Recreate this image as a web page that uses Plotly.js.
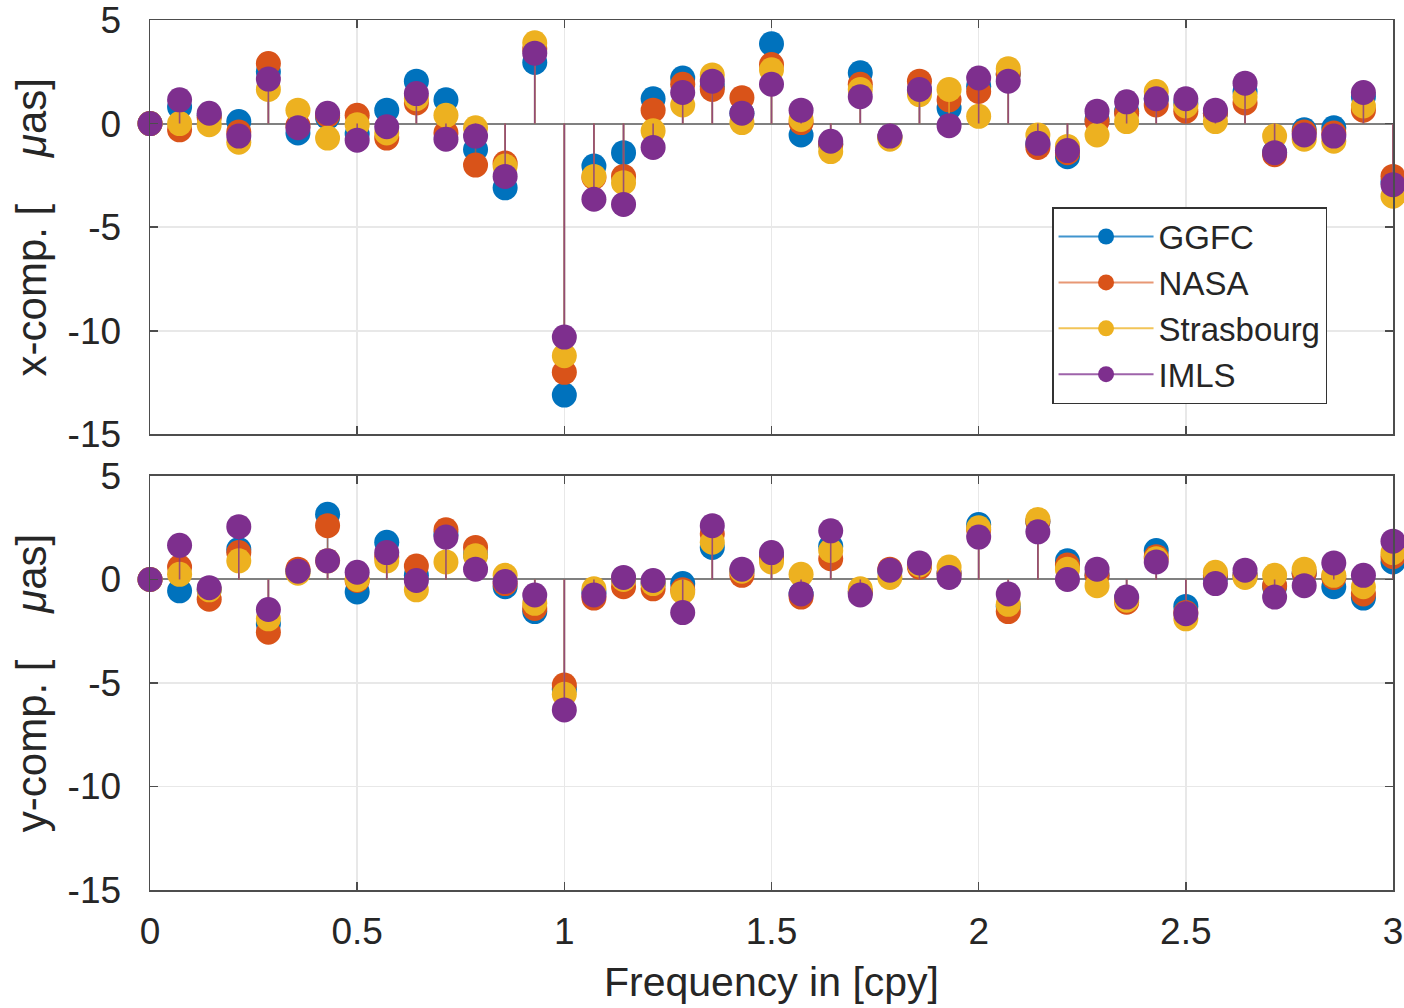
<!DOCTYPE html>
<html>
<head>
<meta charset="utf-8">
<script src="https://cdn.plot.ly/plotly-3.0.1.min.js"></script>
<style>html,body{margin:0;padding:0;background:#fff;}#chart{width:1404px;height:1008px;}</style>
</head>
<body>
<div id="chart"></div>
<script>
// Frequency in cpy
const frequency = [0, 0.0714, 0.1429, 0.2143, 0.2857, 0.3571, 0.4286, 0.5, 0.5714, 0.6429, 0.7143, 0.7857, 0.8571, 0.9286, 1.0, 1.0714, 1.1429, 1.2143, 1.2857, 1.3571, 1.4286, 1.5, 1.5714, 1.6429, 1.7143, 1.7857, 1.8571, 1.9286, 2.0, 2.0714, 2.1429, 2.2143, 2.2857, 2.3571, 2.4286, 2.5, 2.5714, 2.6429, 2.7143, 2.7857, 2.8571, 2.9286, 3.0];

const seriesNames = ["GGFC", "NASA", "Strasbourg", "IMLS"];

// x-component (µas)
const xGGFC = [0, 0.8, 0.4, 0.1, 2.5, -0.45, 0.3, -0.5, 0.65, 2.05, 1.15, -1.25, -3.1, 2.95, -13.1, -2.05, -1.4, 1.2, 2.2, 1.8, 0.5, 3.85, -0.55, -1.0, 2.45, -0.65, 1.6, 0.75, 1.8, 2.4, -1.0, -1.6, 0.2, 0.6, 1.2, 1.0, 0.5, 1.55, -1.4, -0.3, -0.2, 1.3, -2.8];
const xNASA = [0, -0.3, 0.3, -0.4, 2.9, -0.1, 0.4, 0.4, -0.7, 1.0, -0.45, -2.0, -1.9, 3.6, -12.0, -2.6, -2.55, 0.65, 1.9, 1.65, 1.25, 2.85, 0.05, -1.0, 1.9, -0.65, 2.05, 1.15, 1.55, 2.4, -1.15, -1.4, 0.1, 0.5, 0.9, 0.6, 0.5, 1.0, -1.5, -0.4, -0.45, 0.65, -2.55];
const xStrasbourg = [0, 0.0, -0.05, -0.9, 1.65, 0.65, -0.7, -0.05, -0.45, 1.2, 0.4, -0.2, -2.05, 3.9, -11.2, -2.55, -2.85, -0.35, 0.9, 2.35, 0.05, 2.6, 0.2, -1.35, 1.65, -0.75, 1.4, 1.65, 0.35, 2.65, -0.55, -1.1, -0.55, 0.1, 1.55, 0.85, 0.1, 1.3, -0.6, -0.75, -0.85, 0.85, -3.5];
const xIMLS = [0, 1.15, 0.5, -0.6, 2.15, -0.2, 0.5, -0.8, -0.15, 1.45, -0.75, -0.6, -2.55, 3.4, -10.3, -3.65, -3.9, -1.15, 1.5, 2.05, 0.5, 1.9, 0.65, -0.85, 1.3, -0.6, 1.65, -0.1, 2.2, 2.05, -0.95, -1.3, 0.6, 1.05, 1.2, 1.2, 0.65, 1.95, -1.4, -0.55, -0.6, 1.5, -2.95];

// y-component (µas)
const yGGFC = [0, -0.55, -0.5, 1.45, -2.15, 0.4, 3.15, -0.6, 1.8, 0.2, 2.2, 1.2, -0.35, -1.55, -5.3, -0.6, 0.0, -0.2, -0.2, 1.55, 0.4, 1.1, -0.7, 1.6, -0.6, 0.4, 0.7, 0.3, 2.65, -1.3, 2.8, 0.9, 0.2, -0.9, 1.4, -1.3, 0.1, 0.2, -0.35, 0.3, -0.35, -0.9, 0.85];
const yNASA = [0, 0.6, -0.95, 1.3, -2.55, 0.5, 2.6, -0.05, 1.1, 0.65, 2.4, 1.55, -0.2, -1.4, -5.1, -0.9, -0.35, -0.45, -0.5, 2.2, 0.2, 1.0, -0.85, 1.0, -0.6, 0.5, 0.6, 0.3, 2.4, -1.55, 2.8, 0.7, 0.2, -1.1, 1.1, -1.6, 0.2, 0.2, -0.3, 0.3, 0.1, -0.7, 1.1];
const yStrasbourg = [0, 0.25, -0.5, 0.9, -1.9, 0.3, 0.9, 0.0, 0.9, -0.5, 0.85, 1.15, 0.2, -1.15, -5.55, -0.45, 0.0, -0.2, -0.6, 1.8, 0.4, 0.85, 0.25, 1.4, -0.45, 0.1, 0.7, 0.6, 2.5, -1.2, 2.9, 0.5, -0.3, -1.0, 1.0, -1.9, 0.35, 0.1, 0.2, 0.5, 0.2, -0.35, 1.3];
const yIMLS = [0, 1.65, -0.4, 2.55, -1.45, 0.4, 0.9, 0.35, 1.3, -0.05, 2.05, 0.5, -0.1, -0.75, -6.3, -0.75, 0.1, -0.05, -1.6, 2.6, 0.5, 1.3, -0.7, 2.35, -0.75, 0.45, 0.8, 0.1, 2.05, -0.7, 2.3, 0.0, 0.5, -0.85, 0.85, -1.65, -0.2, 0.45, -0.85, -0.3, 0.8, 0.2, 1.85];

const xTickVals = [0, 0.5, 1, 1.5, 2, 2.5, 3];
const xTickText = ["0", "0.5", "1", "1.5", "2", "2.5", "3"];
const yTickVals = [-15, -10, -5, 0, 5];
const yTickText = ["-15", "-10", "-5", "0", "5"];

const colors = ["#0072BD", "#D95319", "#EDB120", "#7E2F8E"];
const stemColors = ["rgba(0,114,189,0.75)", "rgba(217,83,25,0.6)", "rgba(237,177,32,0.75)", "rgba(126,47,142,0.75)"];

const xSeries = [xGGFC, xNASA, xStrasbourg, xIMLS];
const ySeries = [yGGFC, yNASA, yStrasbourg, yIMLS];

function stemTrace(vals, i, xa, ya) {
  return {
    type: "scatter", mode: "markers",
    x: frequency, y: vals, xaxis: xa, yaxis: ya,
    name: seriesNames[i], showlegend: false, legendgroup: seriesNames[i],
    cliponaxis: false,
    marker: {color: colors[i], size: 25, line: {width: 0}},
    error_y: {
      type: "data", symmetric: false,
      array: vals.map(v => v < 0 ? -v : 0),
      arrayminus: vals.map(v => v > 0 ? v : 0),
      color: stemColors[i], thickness: 1.6, width: 0
    },
    hoverinfo: "x+y+name"
  };
}

const traces = [];
for (let i = 0; i < 4; i++) traces.push(stemTrace(xSeries[i], i, "x", "y"));
for (let i = 0; i < 4; i++) traces.push(stemTrace(ySeries[i], i, "x2", "y2"));
for (let i = 0; i < 4; i++) {
  traces.push({
    type: "scatter", mode: "lines+markers", x: [null], y: [null], xaxis: "x", yaxis: "y",
    name: seriesNames[i], legendgroup: seriesNames[i], showlegend: true,
    line: {color: stemColors[i], width: 2},
    marker: {color: colors[i], size: 25}
  });
}

const fontFam = "Liberation Sans, Arial, Helvetica, sans-serif";
const axisCommon = {
  showline: true, mirror: "ticks", linecolor: "#4d4d4d", linewidth: 1.5,
  ticks: "inside", ticklen: 8, tickwidth: 1.5, tickcolor: "#4d4d4d",
  showgrid: true, gridcolor: "#e8e8e8", gridwidth: 1.5,
  ticklabeloverflow: "allow",
  tickfont: {family: fontFam, size: 37, color: "#262626"}
};

const gap = "\u00a0\u00a0\u00a0\u00a0";

const layout = {
  width: 1404, height: 1008,
  paper_bgcolor: "#ffffff", plot_bgcolor: "#ffffff",
  margin: {l: 150, r: 11, t: 20, b: 118},
  showlegend: true,
  font: {family: fontFam, color: "#262626"},
  xaxis: Object.assign({}, axisCommon, {
    domain: [0, 1], anchor: "y", range: [0, 3], tickmode: "array",
    tickvals: xTickVals, ticktext: xTickText, showticklabels: false, zeroline: false
  }),
  yaxis: Object.assign({}, axisCommon, {
    domain: [0.5236, 1], anchor: "x", range: [-15, 5], tickmode: "array",
    tickvals: yTickVals, ticktext: yTickText, ticklabelstandoff: 20,
    zeroline: true, zerolinecolor: "#808080", zerolinewidth: 2,
    title: {text: "x-comp. [" + gap + "<i>\u03bc</i>as]", font: {family: fontFam, size: 42, color: "#262626"}, standoff: 8}
  }),
  xaxis2: Object.assign({}, axisCommon, {
    domain: [0, 1], anchor: "y2", range: [0, 3], tickmode: "array",
    tickvals: xTickVals, ticktext: xTickText, zeroline: false, ticklabelstandoff: 8,
    title: {text: "Frequency in [cpy]", font: {family: fontFam, size: 41, color: "#262626"}, standoff: 16}
  }),
  yaxis2: Object.assign({}, axisCommon, {
    domain: [0, 0.4759], anchor: "x2", range: [-15, 5], tickmode: "array",
    tickvals: yTickVals, ticktext: yTickText, ticklabelstandoff: 20,
    zeroline: true, zerolinecolor: "#808080", zerolinewidth: 2,
    title: {text: "y-comp. [" + gap + "<i>\u03bc</i>as]", font: {family: fontFam, size: 42, color: "#262626"}, standoff: 8}
  }),
  legend: {
    x: 0.7257, y: 0.785, xanchor: "left", yanchor: "top",
    bgcolor: "#ffffff", bordercolor: "#333333", borderwidth: 1.5,
    font: {family: fontFam, size: 33, color: "#262626"},
    itemsizing: "trace", itemwidth: 95, tracegroupgap: 0
  }
};

Plotly.newPlot("chart", traces, layout, {displayModeBar: false, staticPlot: true});
</script>
</body>
</html>
